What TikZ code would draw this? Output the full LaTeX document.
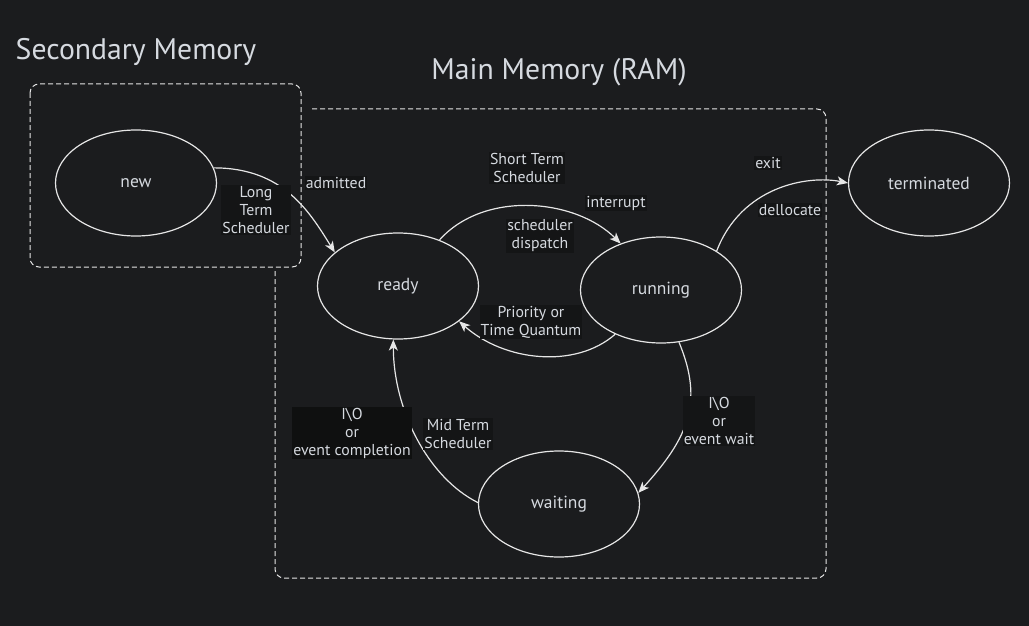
\documentclass[tikz,border=0pt]{standalone}
\usepackage{fontspec}
\setmainfont{PT Sans}
\usetikzlibrary{shapes.geometric,arrows.meta}
\definecolor{bgc}{HTML}{1B1C1E}
\definecolor{linec}{HTML}{E6E6E6}
\definecolor{txtc}{HTML}{D6DAE0}
\definecolor{lblbg}{HTML}{141516}
\definecolor{darkbg}{HTML}{0F1010}
\tikzset{
  state/.style={ellipse, draw=linec, line width=1.2pt, minimum width=161pt, minimum height=106pt, inner sep=0pt, text=txtc, font=\fontsize{17.5}{20}\selectfont},
  edge/.style={draw=linec, line width=1.2pt, -{Stealth[length=11pt,width=9pt,inset=3pt]}},
  lbl/.style={fill=lblbg, text=txtc, align=center, inner sep=1pt, font=\fontsize{15.8}{18}\selectfont},
  darklbl/.style={lbl, fill=darkbg},
  title/.style={text=txtc, font=\fontsize{29.7}{32}\selectfont, inner sep=0pt},
  region/.style={draw=linec, line width=1pt, dashed, dash pattern=on 5pt off 3pt, rounded corners=9pt}
}
\begin{document}
\begin{tikzpicture}[x=1pt,y=-1pt]
\fill[bgc] (0,0) rectangle (1029,626);
\useasboundingbox (0,0) rectangle (1029,626);
% regions
\draw[region] (312,109) -- (826,109) -- (826,578) -- (275,578) -- (275,270);
\draw[region] (30,84) rectangle (301,267);
\node[title] (sec) at (136,52) {Secondary Memory};
\node[title] (mainm) at (559,72) {Main Memory (RAM)};
% states
\node[state] (new) at (136,183) {new};
\node[state] (ready) at (398,286) {ready};
\node[state] (running) at (661,290) {running};
\node[state] (waiting) at (559,504) {waiting};
\node[state] (term) at (929,183) {terminated};
% edges
\draw[edge] (new.11) .. controls +(70,0) and +(-25,-40) .. (ready.152);
\draw[edge] (ready.48) .. controls +(45,-50) and +(-45,-45) .. (running.131);
\draw[edge] (running.224) .. controls +(-40,35) and +(45,40) .. (ready.330);
\draw[edge] (running.35) .. controls +(25,-65) and +(-40,-8) .. (term.180);
\draw[edge] (running.289) .. controls +(25,60) and +(50,-55) .. (waiting.8);
\draw[edge] (waiting.179) .. controls +(-50,-25) and +(0,70) .. (ready.265);
% labels
\node[lbl] (ladm) at (336,183) {admitted};
\node[lbl] (llts) at (256,210) {Long\\Term\\Scheduler};
\node[lbl] (lsts) at (527,168) {Short Term\\Scheduler};
\node[lbl] (lint) at (616,203) {interrupt};
\node[lbl] (ldis) at (540,236) {scheduler\\dispatch};
\node[lbl] (lpri) at (531,322) {Priority or\\Time Quantum};
\node[lbl] (lexit) at (768,163) {exit};
\node[lbl] (ldel) at (790,210) {dellocate};
\node[lbl] (lwait) at (719,421) {I\textbackslash O\\or\\event wait};
\node[lbl] (lmts) at (458,434) {Mid Term\\Scheduler};
\node[darklbl] (lcomp) at (352,433) {I\textbackslash O\\or\\event completion};
\end{tikzpicture}
\end{document}
